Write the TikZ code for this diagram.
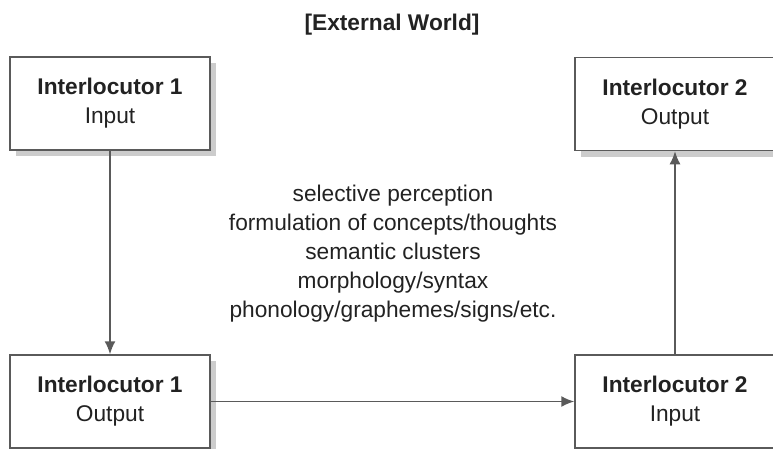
\documentclass[tikz,border=0pt]{standalone}
\usepackage{fontspec}
\setmainfont{Liberation Sans}
\usetikzlibrary{shadows,arrows.meta}
\definecolor{linecol}{HTML}{5A5A5A}
\definecolor{txtcol}{HTML}{222222}
\definecolor{shadcol}{HTML}{CCCCCC}
\begin{document}
\begin{tikzpicture}[x=1pt,y=-1pt,
  every node/.style={text=txtcol, font=\fontsize{22.7}{29}\selectfont},
  ibox/.style={draw=linecol, line width=1.5pt, fill=white, minimum width=200pt, minimum height=93pt,
    inner sep=0pt, align=center,
    drop shadow={shadow xshift=6pt, shadow yshift=-6pt, fill=shadcol, opacity=1}},
  conn/.style={draw=linecol, line width=1.6pt, -{Latex[length=13pt,width=11pt]}}]
\useasboundingbox (0,0) rectangle (773,448);
\node[font=\bfseries\fontsize{22.7}{29}\selectfont] (title) at (392,25) {[External World]};
\node[ibox] (i1in) at (110,103.5) {\textbf{Interlocutor 1}\\Input};
\node[ibox] (i2out) at (675,104) {\textbf{Interlocutor 2}\\Output};
\node[ibox] (i1out) at (110,401.5) {\textbf{Interlocutor 1}\\Output};
\node[ibox] (i2in) at (675,401.5) {\textbf{Interlocutor 2}\\Input};
\node[align=center] (mid) at (393,254) {selective perception\\formulation of concepts/thoughts\\semantic clusters\\morphology/syntax\\phonology/graphemes/signs/etc.};
\draw[conn] (i1in) -- (i1out);
\draw[conn] (i1out) -- (i2in);
\draw[conn] (i2in) -- (i2out);
\end{tikzpicture}
\end{document}
